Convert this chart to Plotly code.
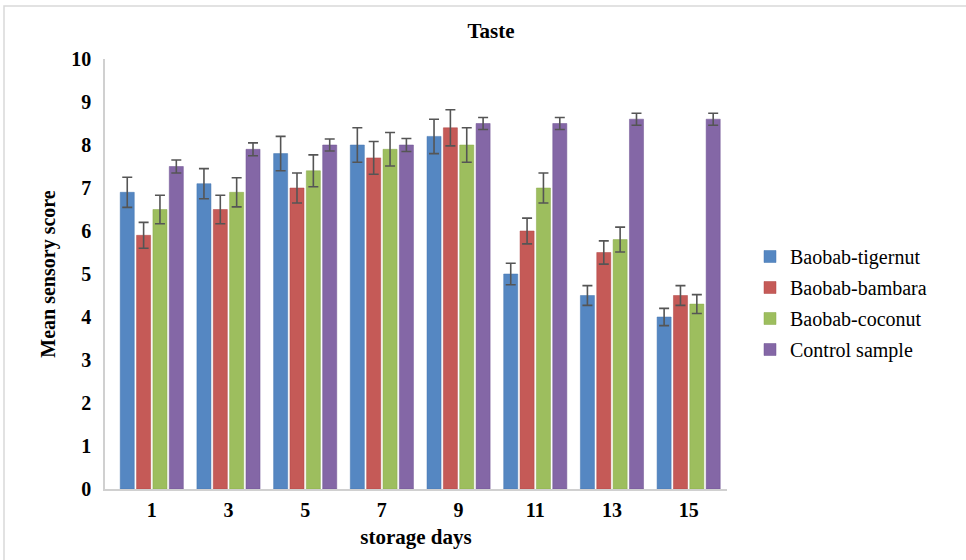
import plotly.graph_objects as go

days = ["1", "3", "5", "7", "9", "11", "13", "15"]
series_names = ["Baobab-tigernut", "Baobab-bambara", "Baobab-coconut", "Control sample"]
tigernut = [6.9, 7.1, 7.8, 8.0, 8.2, 5.0, 4.5, 4.0]
tigernut_err = [0.35, 0.35, 0.4, 0.4, 0.4, 0.25, 0.23, 0.2]
bambara = [5.9, 6.5, 7.0, 7.7, 8.4, 6.0, 5.5, 4.5]
bambara_err = [0.3, 0.33, 0.35, 0.38, 0.42, 0.3, 0.27, 0.23]
coconut = [6.5, 6.9, 7.4, 7.9, 8.0, 7.0, 5.8, 4.3]
coconut_err = [0.33, 0.34, 0.37, 0.39, 0.4, 0.35, 0.29, 0.22]
control = [7.5, 7.9, 8.0, 8.0, 8.5, 8.5, 8.6, 8.6]
control_err = [0.15, 0.15, 0.14, 0.15, 0.14, 0.14, 0.14, 0.14]

values = [tigernut, bambara, coconut, control]
errors = [tigernut_err, bambara_err, coconut_err, control_err]
colors = ["#5587C2", "#C55A57", "#9DBE5E", "#8467A6"]
line_colors = ["#4576B0", "#B04744", "#88A94A", "#6E5392"]

serif = "Liberation Serif, Times New Roman, serif"

L, R, T, B = 105, 727, 59, 489

fig = go.Figure()
for i, (name, vals, errs, c, lc) in enumerate(zip(series_names, values, errors, colors, line_colors)):
    fig.add_trace(go.Bar(
        x=days, y=vals, name=name, legendgroup=f"g{i}",
        marker=dict(color=c, line=dict(color=lc, width=0.5)),
        error_y=dict(type="data", array=errs, visible=True,
                     color="#555555", thickness=1.6, width=5),
    ))

fig.update_layout(
    width=966, height=560,
    margin=dict(l=L, r=966 - R, t=T, b=560 - B),
    paper_bgcolor="white", plot_bgcolor="white",
    barmode="group", bargap=0.147, bargroupgap=0.14,
    title=dict(text="<b>Taste</b>", x=491 / 966, xanchor="center",
               y=1 - 31 / 560, yanchor="middle",
               font=dict(family=serif, size=21, color="black")),
    font=dict(family=serif, color="black"),
    legend=dict(x=(750 - L) / (R - L), y=(B - 237) / (B - T), xanchor="left", yanchor="top",
                font=dict(family=serif, size=20, color="black"),
                tracegroupgap=2, itemwidth=30, bgcolor="rgba(0,0,0,0)",
                traceorder="grouped"),
    showlegend=True,
)
fig.update_xaxes(
    range=[-0.61, 7.5],
    showline=True, linecolor="#D0D0D0", linewidth=1.5,
    showgrid=False, ticks="", ticklabelstandoff=2,
    tickfont=dict(family=serif, size=20, color="black", weight="bold"),
    title=dict(text="<b>storage days</b>", standoff=10,
               font=dict(family=serif, size=21, color="black")),
)
fig.update_yaxes(
    range=[0, 10], dtick=1, showline=True, linecolor="#D0D0D0", linewidth=1.5,
    showgrid=False, zeroline=False, ticks="", ticklabelstandoff=8,
    tickfont=dict(family=serif, size=20, color="black", weight="bold"),
    title=dict(text="<b>Mean sensory score</b>", standoff=10,
               font=dict(family=serif, size=20, color="black")),
)
# chart outer border
fig.add_shape(type="rect", xref="paper", yref="paper",
              x0=(4 - L) / (R - L), x1=(975 - L) / (R - L),
              y0=(B - 570) / (B - T), y1=(B - 6) / (B - T),
              line=dict(color="#D9D9D9", width=1.5), fillcolor="rgba(0,0,0,0)")

fig.write_html("out.html", config={"displayModeBar": False},
               post_script="document.body.style.margin='0';document.body.style.padding='0';")
